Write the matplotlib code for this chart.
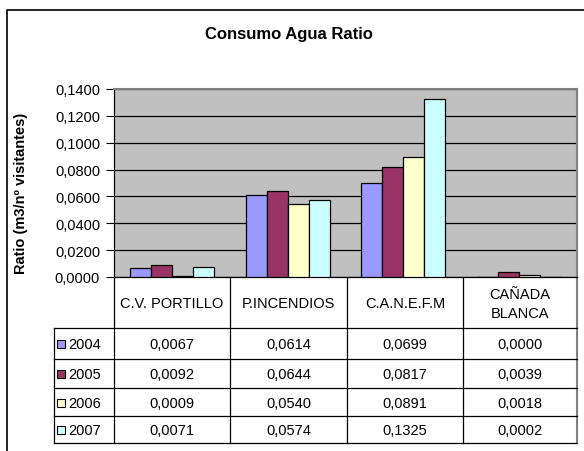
import matplotlib
matplotlib.use("Agg")
import matplotlib.pyplot as plt
import numpy as np

plt.rcParams['font.family'] = ['Liberation Sans', 'DejaVu Sans']

categories = ["C.V. PORTILLO", "P.INCENDIOS", "C.A.N.E.F.M", "CAÑADA\nBLANCA"]
years = ["2004", "2005", "2006", "2007"]
v2004 = [0.0067, 0.0614, 0.0699, 0.0000]
v2005 = [0.0092, 0.0644, 0.0817, 0.0039]
v2006 = [0.0009, 0.0540, 0.0891, 0.0018]
v2007 = [0.0071, 0.0574, 0.1325, 0.0002]
series = [v2004, v2005, v2006, v2007]
colors = ["#9999FF", "#993366", "#FFFFCC", "#CCFFFF"]

W, H = 584, 452
fig = plt.figure(figsize=(W / 100, H / 100), dpi=100)

# background axes in pixel coords for borders and table
bg = fig.add_axes([0, 0, 1, 1])
bg.set_xlim(0, W)
bg.set_ylim(H, 0)
bg.axis("off")
bg.plot([7, 7, W + 5], [H + 5, 11, 11], color="black", lw=1.2)

# plot area
px0, px1, py0, py1 = 114, 577, 90, 278
ax = fig.add_axes([px0 / W, 1 - py1 / H, (px1 - px0) / W, (py1 - py0) / H])
ax.set_facecolor("#C0C0C0")
x = np.arange(len(categories))
bw = 1 / 5.5
for i, vals in enumerate(series):
    ax.bar(x + (i - 1.5) * bw, vals, bw, color=colors[i], edgecolor="black",
           linewidth=0.9, zorder=3)
ax.set_xlim(-0.5, len(categories) - 0.5)
ax.set_ylim(0, 0.14)
ticks = np.arange(0, 0.1401, 0.02)
ax.set_yticks(ticks)
ax.set_yticklabels([f"{t:.4f}".replace(".", ",") for t in ticks], fontsize=10.5)
ax.set_xticks([])
ax.grid(axis="y", color="black", lw=0.9, zorder=1)
ax.tick_params(axis="y", length=6, width=0.8, pad=4)
for s in ["top", "right"]:
    ax.spines[s].set_color("#808080")
    ax.spines[s].set_linewidth(1.5)
ax.spines["left"].set_linewidth(0.9)
ax.spines["bottom"].set_linewidth(0.9)
ax.set_ylabel("Ratio (m3/nº visitantes)", fontsize=10.5, fontweight="bold")
ax.yaxis.set_label_coords(-(114 - 28) / (px1 - px0), 0.45)

fig.text(289 / W, 1 - 34 / H, "Consumo Agua Ratio", ha="center", va="center",
         fontsize=12, fontweight="bold")

# data table
col_edges = [114, 230, 347, 463, 577]
row_edges = [329, 360, 389, 417, 444]
lx = 54
lc = "black"
for xe in col_edges[:-1]:
    bg.plot([xe, xe], [py1, row_edges[-1]], color=lc, lw=0.9)
bg.plot([col_edges[-1]] * 2, [py1, row_edges[-1]], color="#808080", lw=1.5)
for ye in row_edges:
    bg.plot([lx, col_edges[-1]], [ye, ye], color=lc, lw=0.9)
bg.plot([lx, lx], [row_edges[0], row_edges[-1]], color=lc, lw=0.9)

for j, cat in enumerate(categories):
    cx = (col_edges[j] + col_edges[j + 1]) / 2
    bg.text(cx, (py1 + row_edges[0]) / 2 + 1, cat, ha="center", va="center",
            fontsize=10.5, linespacing=1.45)
for i, yr in enumerate(years):
    cy = (row_edges[i] + row_edges[i + 1]) / 2 + 1
    bg.add_patch(plt.Rectangle((57, cy - 4.5), 8, 8, facecolor=colors[i],
                               edgecolor="black", lw=0.8))
    bg.text(68, cy, yr, ha="left", va="center", fontsize=10.5)
    for j in range(len(categories)):
        cx = (col_edges[j] + col_edges[j + 1]) / 2
        bg.text(cx, cy, f"{series[i][j]:.4f}".replace(".", ","), ha="center",
                va="center", fontsize=10.5)

fig.savefig("out.png", dpi=100)
